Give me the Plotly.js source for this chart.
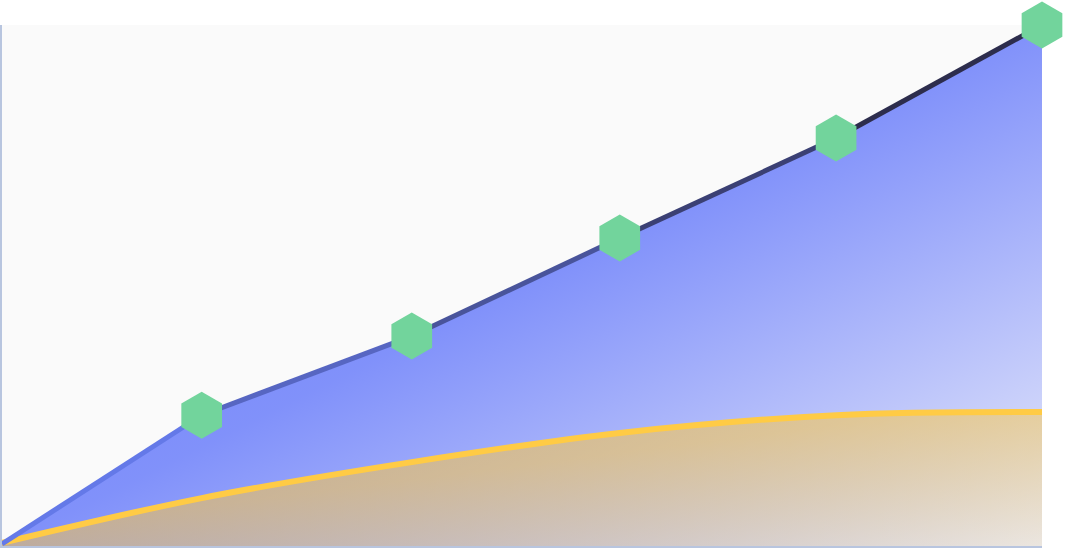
<!DOCTYPE html>
<html>
<head>
<meta charset="utf-8">
<script src="https://cdn.plot.ly/plotly-3.0.1.min.js"></script>
<style>
  html, body { margin: 0; padding: 0; background: #ffffff; }
  #chart { width: 1074px; height: 549px; }
</style>
</head>
<body>
<div id="chart"></div>
<script>
// values (x in 0..100, y in 0..100)
const xValues    = [0, 19.2, 39.4, 59.4, 80.2, 100];
const mainSeries = [0.4, 25.1, 40.3, 59.1, 78.3, 100];
const subSeries  = [0.6, 9.2, 16.1, 21.7, 25.1, 25.7];

const LINE_START = [107, 130, 250];
const LINE_END   = [38, 36, 58];

function mix(a, b, t) {
  const c = a.map((v, i) => Math.round(v + (b[i] - v) * t));
  return `rgb(${c[0]},${c[1]},${c[2]})`;
}

// blue area, drawn without its own outline
const mainArea = {
  x: xValues, y: mainSeries,
  type: 'scatter', mode: 'lines',
  line: { width: 0 },
  fill: 'tozeroy',
  fillgradient: {
    type: 'horizontal',
    colorscale: [
      [0, 'rgba(102,122,250,1)'],
      [0.5, 'rgba(102,122,250,0.82)'],
      [1, 'rgba(102,122,250,0.12)']
    ]
  },
  hoverinfo: 'skip', showlegend: false
};

const subArea = {
  x: xValues, y: subSeries,
  type: 'scatter', mode: 'lines',
  line: { shape: 'spline', smoothing: 1, width: 6, color: '#ffcb45' },
  fill: 'tozeroy',
  fillgradient: {
    type: 'horizontal',
    colorscale: [
      [0, 'rgba(255,200,60,0.56)'],
      [0.45, 'rgba(255,200,60,0.52)'],
      [1, 'rgba(255,200,60,0.14)']
    ]
  },
  hoverinfo: 'skip', showlegend: false
};

// the main line fades from blue to near black, one piece per interval
const lineParts = [];
const xMax = xValues[xValues.length - 1];
for (let i = 0; i < xValues.length - 1; i++) {
  const t = (xValues[i] + xValues[i + 1]) / 2 / xMax;
  lineParts.push({
    x: [xValues[i], xValues[i + 1]],
    y: [mainSeries[i], mainSeries[i + 1]],
    type: 'scatter', mode: 'lines',
    line: { width: 5, color: mix(LINE_START, LINE_END, t) },
    hoverinfo: 'skip', showlegend: false
  });
}

const markers = {
  x: xValues.slice(1), y: mainSeries.slice(1),
  type: 'scatter', mode: 'markers',
  marker: { symbol: 'hexagon', size: 47, color: '#72d49c', line: { width: 0 } },
  cliponaxis: false, hovertemplate: '%{y}<extra></extra>', showlegend: false
};

const layout = {
  width: 1074, height: 549,
  margin: { l: 2, r: 32, t: 25, b: 3 },
  paper_bgcolor: '#ffffff',
  plot_bgcolor: '#fafafa',
  showlegend: false,
  xaxis: {
    range: [0, 100], fixedrange: true,
    showgrid: false, zeroline: false, showticklabels: false, ticks: '',
    showline: true, linecolor: '#b8c5df', linewidth: 2
  },
  yaxis: {
    range: [0, 100], fixedrange: true,
    showgrid: false, zeroline: false, showticklabels: false, ticks: '',
    showline: true, linecolor: '#b8c5df', linewidth: 2
  }
};

// turn a fill gradient to run corner to corner over the area's own box
// (Plotly writes the stops end-first, so the vector runs bottom-right to top-left)
function tiltFill(gd, traceIndex) {
  const traceEls = gd.querySelectorAll('.scatterlayer .trace');
  const fillEl = traceEls[traceIndex] && traceEls[traceIndex].querySelector('.js-fill');
  if (!fillEl) return;
  const m = /#([^"')]+)/.exec(fillEl.style.fill || '');
  const grad = m && document.getElementById(m[1]);
  if (!grad) return;
  grad.setAttribute('gradientUnits', 'objectBoundingBox');
  grad.setAttribute('x1', 1);
  grad.setAttribute('y1', 1);
  grad.setAttribute('x2', 0);
  grad.setAttribute('y2', 0);
}

const gd = document.getElementById('chart');
Plotly.newPlot(gd, [mainArea, subArea, ...lineParts, markers], layout, {
  displayModeBar: false, staticPlot: true
}).then(() => {
  tiltFill(gd, 0);
  tiltFill(gd, 1);
});
</script>
</body>
</html>
